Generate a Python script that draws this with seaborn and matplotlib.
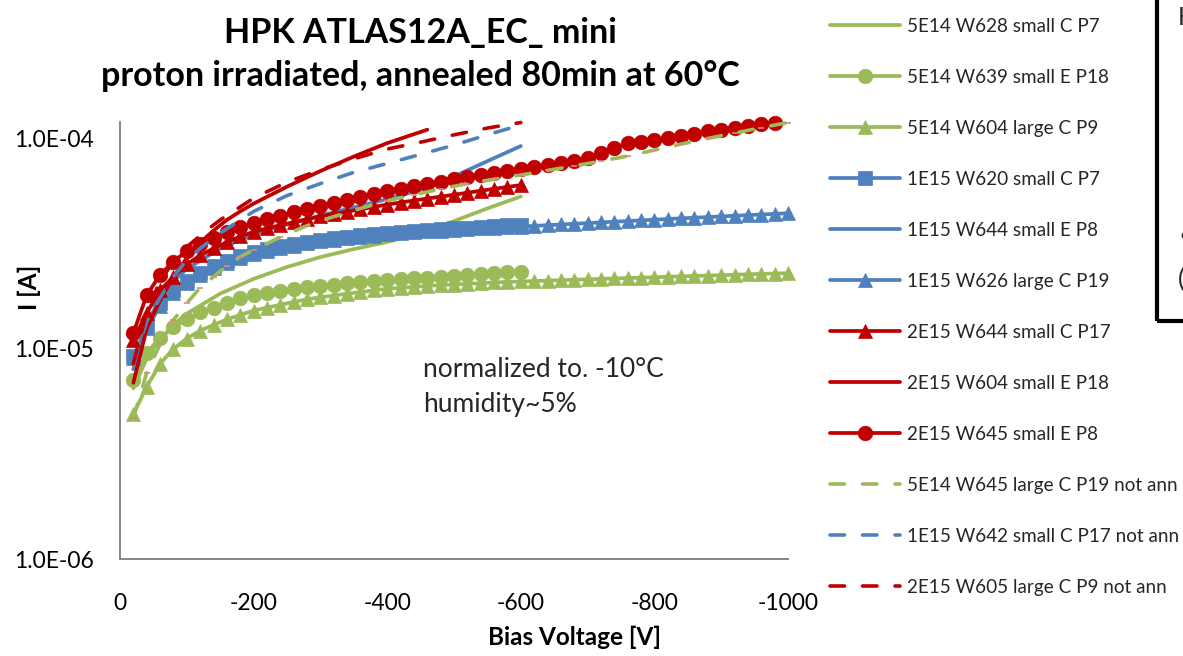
import numpy as np
import pandas as pd
import matplotlib
matplotlib.use("Agg")
import matplotlib.pyplot as plt
import seaborn as sns
from matplotlib.patches import Rectangle
from matplotlib.ticker import LogLocator, NullFormatter, FixedLocator

# ---------------- data (bias voltage in V, current in uA) ----------------
v_to600 = [-20, -40, -60, -80, -100, -120, -140, -160, -180, -200,
           -220, -240, -260, -280, -300, -320, -340, -360, -380, -400,
           -420, -440, -460, -480, -500, -520, -540, -560, -580, -600]
v_to1000 = v_to600 + [-620, -640, -660, -680, -700, -720, -740, -760, -780, -800,
                      -820, -840, -860, -880, -900, -920, -940, -960, -980, -1000]
v_to980 = v_to1000[:-1]
v_coarse600 = [-20, -40, -60, -80, -100, -150, -200, -250, -300, -350, -400, -450, -500, -550, -600]
v_red_solid = [-20, -40, -60, -80, -100, -120, -140, -160, -180, -200, -250, -300, -350, -400, -460]
v_red_dash = [-20, -40, -60, -80, -100, -130, -150, -200, -250, -300, -350, -400, -450, -500, -550, -600]
v_blue_dash = [-20, -40, -60, -80, -100, -120, -150, -200, -250, -300, -350, -400, -450, -500, -550, -600]
v_green_dash = [-20, -40, -60, -80, -100, -120, -140, -160, -180, -200,
                -240, -280, -320, -360, -400, -440, -480, -520, -560, -600,
                -640, -680, -720, -760, -800, -840, -880, -920, -960, -1000]

i_5e14_w628 = [6.5, 9.0, 11.0, 13.0, 14.7, 18.3, 21.5, 24.5, 27.3, 29.8, 32.2, 35.5, 40.5, 46.5, 53.0]
i_5e14_w639 = [7.1, 9.6, 11.3, 12.7, 13.8, 14.9, 15.7, 16.6, 17.4, 18.0,
               18.5, 18.9, 19.3, 19.7, 20.0, 20.2, 20.5, 20.7, 20.9, 21.2,
               21.4, 21.6, 21.8, 22.0, 22.3, 22.5, 22.7, 22.9, 23.1, 23.3]
i_5e14_w604 = [4.9, 6.6, 8.5, 10.0, 11.2, 12.2, 13.0, 13.8, 14.5, 15.2,
               15.7, 16.2, 16.7, 17.2, 17.6, 17.9, 18.3, 18.6, 19.0, 19.3,
               19.5, 19.7, 19.9, 20.1, 20.2, 20.4, 20.5, 20.7, 20.8, 20.9,
               21.0, 21.1, 21.2, 21.3, 21.4, 21.5, 21.6, 21.7, 21.8, 21.9,
               22.0, 22.1, 22.2, 22.3, 22.4, 22.5, 22.6, 22.7, 22.8, 22.9]
i_1e15_w620 = [9.2, 12.8, 16.5, 19.0, 21.0, 23.0, 24.8, 26.2, 27.6, 28.8,
               29.8, 30.7, 31.5, 32.3, 33.0, 33.6, 34.1, 34.6, 35.1, 35.6,
               36.0, 36.4, 36.8, 37.1, 37.4, 37.7, 38.0, 38.3, 38.6, 38.9]
i_1e15_w644 = [8.0, 13.0, 17.5, 21.0, 24.0, 30.0, 35.0, 39.0, 43.0, 47.0, 51.5, 57.0, 66.0, 78.0, 92.0]
i_1e15_w626 = [9.0, 12.5, 16.0, 18.5, 20.5, 22.4, 24.2, 25.6, 27.0, 28.2,
               29.2, 30.1, 30.9, 31.7, 32.4, 33.0, 33.5, 34.0, 34.5, 35.0,
               35.4, 35.8, 36.2, 36.5, 36.8, 37.1, 37.4, 37.6, 37.9, 38.1,
               38.4, 38.7, 39.0, 39.3, 39.6, 39.9, 40.2, 40.5, 40.8, 41.1,
               41.4, 41.7, 42.0, 42.3, 42.6, 42.9, 43.2, 43.5, 43.8, 44.1]
i_2e15_w644 = [11.0, 14.8, 19.0, 22.0, 25.2, 27.8, 30.0, 32.2, 34.2, 36.0,
               37.4, 38.7, 40.0, 41.3, 42.6, 43.8, 44.9, 46.0, 47.3, 48.5,
               49.6, 50.7, 51.8, 52.9, 54.0, 55.2, 56.4, 57.6, 58.8, 60.0]
i_2e15_w604 = [6.9, 12.5, 17.0, 22.0, 27.0, 32.0, 36.5, 41.0, 45.0, 49.0, 59.0, 70.0, 82.0, 95.0, 110.0]
i_2e15_w645 = [11.9, 18.0, 22.5, 26.0, 29.2, 31.5, 33.8, 36.0, 38.0, 39.8,
               41.5, 43.0, 44.6, 46.2, 47.8, 49.5, 51.2, 52.8, 54.4, 56.0,
               57.6, 59.2, 60.8, 62.4, 64.0, 65.6, 67.2, 68.6, 70.0, 71.5,
               73.0, 74.5, 76.2, 78.2, 80.5, 85.5, 90.0, 95.0, 96.5, 98.0,
               100.5, 103.0, 105.5, 108.0, 110.0, 112.0, 114.5, 117.0, 119.0]
i_5e14_w645_na = [4.7, 7.7, 10.5, 13.7, 16.5, 19.5, 22.0, 24.8, 27.4, 29.5,
                  34.0, 38.5, 42.5, 46.5, 50.5, 54.0, 57.5, 61.0, 64.0, 67.0,
                  70.5, 74.0, 78.0, 82.5, 88.0, 94.0, 100.0, 106.0, 112.5, 119.0]
i_1e15_w642_na = [8.5, 13.5, 17.5, 22.0, 26.5, 30.0, 35.5, 45.0, 53.5, 61.0, 69.0, 76.0, 84.0, 93.0, 104.0, 116.0]
i_2e15_w605_na = [8.5, 15.0, 21.0, 26.0, 30.5, 36.7, 41.0, 52.0, 62.0, 71.0, 80.0, 89.0, 96.0, 104.0, 112.0, 119.0]

labels = ["5E14 W628 small C P7", "5E14 W639 small E P18", "5E14 W604 large C P9",
          "1E15 W620 small C P7", "1E15 W644 small E P8", "1E15 W626 large C P19",
          "2E15 W644 small C P17", "2E15 W604 small E P18", "2E15 W645 small E P8",
          "5E14 W645 large C P19 not ann", "1E15 W642 small C P17 not ann",
          "2E15 W605 large C P9 not ann"]
xs = [v_coarse600, v_to600, v_to1000, v_to600, v_coarse600, v_to1000,
      v_to600, v_red_solid, v_to980, v_green_dash, v_blue_dash, v_red_dash]
ys = [i_5e14_w628, i_5e14_w639, i_5e14_w604, i_1e15_w620, i_1e15_w644, i_1e15_w626,
      i_2e15_w644, i_2e15_w604, i_2e15_w645, i_5e14_w645_na, i_1e15_w642_na, i_2e15_w605_na]

x_ticks = [0, -200, -400, -600, -800, -1000]
x_ticklabels = ["0", "-200", "-400", "-600", "-800", "-1000"]
y_ticks = [1e-6, 1e-5, 1e-4]
y_ticklabels = ["1.0E-06", "1.0E-05", "1.0E-04"]

# ---------------- styles ----------------
GREEN, BLUE, RED = "#9BBB59", "#4F81BD", "#C00000"
styles = [
    dict(color=GREEN, marker=None),
    dict(color=GREEN, marker="o", markersize=10.5),
    dict(color=GREEN, marker="^", markersize=10),
    dict(color=BLUE, marker="s", markersize=9.5),
    dict(color=BLUE, marker=None),
    dict(color=BLUE, marker="^", markersize=10),
    dict(color=RED, marker="^", markersize=10),
    dict(color=RED, marker=None),
    dict(color=RED, marker="o", markersize=10.5),
    dict(color=GREEN, marker="_", markersize=4, dashed=True, mcol="#D88A80"),
    dict(color=BLUE, marker=None, dashed=True),
    dict(color=RED, marker=None, dashed=True),
]

sns.set_style("white")
plt.rcParams["font.family"] = ["Lato", "DejaVu Sans"]
plt.rcParams["axes.unicode_minus"] = False

W, H = 1183, 656
fig = plt.figure(figsize=(W / 100, H / 100), dpi=100)
ax = fig.add_axes([120 / W, 1 - 559.3 / H, 668 / W, (559.3 - 122.3) / H])

for lab, xv, yv, st in zip(labels, xs, ys, styles):
    df = pd.DataFrame({"V": xv, "I": np.array(yv) * 1e-6})
    kw = dict(color=st["color"], linewidth=2.7)
    if st.get("marker"):
        mc = st.get("mcol", st["color"])
        kw.update(marker=st["marker"], markersize=st["markersize"],
                  markeredgecolor=mc, markerfacecolor=mc,
                  markeredgewidth=1.2 if st["marker"] == "_" else 0.5)
    sns.lineplot(data=df, x="V", y="I", ax=ax, label=lab, sort=False,
                 estimator=None, legend=False, **kw)
    line = ax.lines[-1]
    line.set_clip_on(False)
    if st.get("dashed"):
        line.set_linewidth(2.6)
        line.set_dashes([4.0, 5.0])
        line.set_dash_capstyle("round")

ax.set_yscale("log")
ax.set_ylim(1e-6, 1.193e-4)
ax.set_xlim(0, -1000)
ax.set_xticks(x_ticks)
ax.set_xticklabels(x_ticklabels)
ax.yaxis.set_major_locator(FixedLocator(y_ticks))
ax.set_yticklabels(y_ticklabels)
ax.yaxis.set_minor_locator(LogLocator(base=10, subs=np.arange(2, 10)))
ax.yaxis.set_minor_formatter(NullFormatter())
ax.set_xlabel("")
ax.set_ylabel("")
for s in ["top", "right"]:
    ax.spines[s].set_visible(False)
for s in ["left", "bottom"]:
    ax.spines[s].set_color("#868686")
    ax.spines[s].set_linewidth(1.4)
ax.tick_params(which="both", direction="in", color="#868686", width=1.3,
               labelsize=16.5, labelcolor="black")
ax.tick_params(which="major", length=6.5)
ax.tick_params(which="minor", length=4)
ax.tick_params(axis="y", which="both", pad=19)
ax.tick_params(axis="x", which="both", pad=24)
ax.grid(False)

# titles and labels
fig.text(420 / W, 1 - 33 / H, "HPK ATLAS12A_EC_ mini", ha="center", va="center",
         fontsize=24.5, fontweight="bold", color="black")
fig.text(420 / W, 1 - 76 / H, "proton irradiated, annealed 80min at 60°C", ha="center",
         va="center", fontsize=24.5, fontweight="bold", color="black")
fig.text(574 / W, 1 - 637 / H, "Bias Voltage [V]", ha="center", va="center",
         fontsize=17.5, fontweight="bold", color="black")
fig.text(29 / W, 1 - 287 / H, "I [A]", ha="center", va="center", rotation=90,
         fontsize=17.5, fontweight="bold", color="black")
fig.text(423 / W, 1 - 377 / H, "normalized to. -10°C", ha="left", va="baseline", fontsize=19)
fig.text(423 / W, 1 - 412 / H, "humidity~5%", ha="left", va="baseline", fontsize=19)

# legend
handles, labs = ax.get_legend_handles_labels()
ax.legend(handles, labs, loc="upper left", bbox_to_anchor=(830 / W, 1 - 18 / H),
          bbox_transform=fig.transFigure, frameon=False, fontsize=13.6,
          handlelength=3.7, handletextpad=0.38, labelspacing=1.8,
          borderpad=0, borderaxespad=0, numpoints=1)

# partially visible text box at the right edge
fig.add_artist(Rectangle((1157 / W, 1 - 321 / H), 0.2, 0.6, transform=fig.transFigure,
                         fill=False, edgecolor="black", linewidth=3, clip_on=False))
fig.text(1178 / W, 1 - 25 / H, "H", ha="left", va="baseline", fontsize=18)
fig.text(1178 / W, 1 - 243 / H, "•", ha="left", va="baseline", fontsize=18)
fig.text(1178 / W, 1 - 287 / H, "(", ha="left", va="baseline", fontsize=18)

fig.savefig("out.png", dpi=100)
